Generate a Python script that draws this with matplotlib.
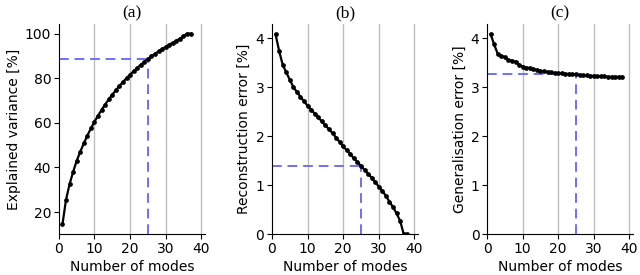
import matplotlib
matplotlib.use('Agg')
import matplotlib.pyplot as plt

# explained variance per number of modes
modes_a = list(range(1, 38))
explained = [14.5, 25.5, 32.5, 38.0, 43.0, 47.0, 50.8, 54.3, 57.5, 60.5,
             63.2, 65.8, 68.2, 70.5, 72.6, 74.6, 76.5, 78.3, 80.0, 81.6,
             83.1, 84.6, 86.0, 87.3, 88.6, 89.8, 90.9, 92.0, 93.0, 94.0,
             95.0, 95.9, 96.8, 97.7, 98.8, 99.9, 100.0]

# reconstruction error
modes_b = list(range(1, 39))
recon = [4.08, 3.74, 3.46, 3.30, 3.15, 3.00, 2.90, 2.80, 2.71, 2.62,
         2.54, 2.46, 2.38, 2.30, 2.22, 2.14, 2.06, 1.97, 1.88, 1.79,
         1.71, 1.63, 1.55, 1.47, 1.39, 1.31, 1.23, 1.15, 1.06, 0.97,
         0.88, 0.78, 0.66, 0.55, 0.42, 0.27, 0.00, 0.00]

# generalisation error
modes_c = list(range(1, 39))
general = [4.08, 3.87, 3.68, 3.64, 3.61, 3.56, 3.54, 3.52, 3.46, 3.42,
           3.40, 3.39, 3.37, 3.35, 3.33, 3.32, 3.31, 3.30, 3.29, 3.28,
           3.28, 3.27, 3.27, 3.26, 3.26, 3.25, 3.24, 3.24, 3.23, 3.23,
           3.22, 3.22, 3.22, 3.21, 3.21, 3.21, 3.21, 3.21]

chosen = 25
titles = ['(a)', '(b)', '(c)']
ylabels = ['Explained variance [%]', 'Reconstruction error [%]', 'Generalisation error [%]']
xticks = [0, 10, 20, 30, 40]

fig = plt.figure(figsize=(6.4, 2.75), dpi=100)
lefts = [0.092, 0.425, 0.761]
width = 0.228
bottom, height = 0.149, 0.764

panels = [(modes_a, explained), (modes_b, recon), (modes_c, general)]

for i, (x, y) in enumerate(panels):
    ax = fig.add_axes([lefts[i], bottom, width, height])
    for g in xticks[1:]:
        ax.axvline(g, color='#bdbdbd', linewidth=1.0, zorder=0)
    ax.plot(x, y, color='black', linewidth=1.6, marker='o', markersize=2.4, zorder=3)

    yv = y[x.index(chosen)]
    ax.set_xlim(0, 41)
    if i == 0:
        ax.set_ylim(10.2, 104.3)
        ax.set_yticks([20, 40, 60, 80, 100])
    else:
        ax.set_ylim(0, 4.29)
        ax.set_yticks([0, 1, 2, 3, 4])
    ylo = ax.get_ylim()[0]
    ax.plot([0, chosen], [yv, yv], color='#7070f2', linestyle='--', linewidth=1.4,
            dashes=(5, 3), zorder=2)
    ax.plot([chosen, chosen], [ylo, yv], color='#7070f2', linestyle='--', linewidth=1.4,
            dashes=(5, 3), zorder=2)

    ax.set_xticks(xticks)
    ax.spines['top'].set_visible(False)
    ax.spines['right'].set_visible(False)
    ax.tick_params(labelsize=10, length=3.5, width=0.8, pad=2)
    ax.set_xlabel('Number of modes', fontsize=10, labelpad=3)
    ax.set_ylabel(ylabels[i], fontsize=10, labelpad=3)
    ax.set_title(titles[i], fontsize=12.5, family='Liberation Serif', pad=5)

fig.savefig('out.png', dpi=100)
